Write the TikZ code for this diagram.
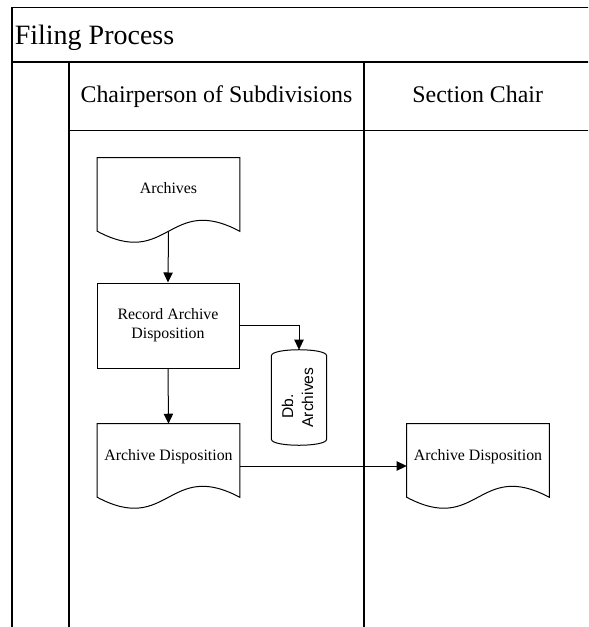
\documentclass[tikz,border=0pt]{standalone}
\usepackage{fontspec}
\setmainfont{Liberation Serif}
\setsansfont{Liberation Sans}
\usetikzlibrary{arrows.meta,calc}

\begin{document}
\begin{tikzpicture}[x=0.75pt,y=-0.75pt,
		frame/.style={line width=1pt},
		flow/.style={-{Triangle[length=7.5pt,width=7pt]},line width=0.75pt},
		nodefont/.style={font=\fontsize{11.9}{14.5}\selectfont},
		procbox/.style={draw,line width=0.75pt,nodefont,minimum width=106.5pt,minimum height=63.75pt,align=center,inner sep=2pt},
		docbox/.style={nodefont,minimum width=106.5pt,minimum height=63pt,inner sep=0pt,text height=8pt,text depth=17pt,
			append after command={\pgfextra{\draw[line width=0.75pt] (\tikzlastnode.north west) -- (\tikzlastnode.north east) -- ($(\tikzlastnode.south east)+(0,-11)$) .. controls ($(\tikzlastnode.south)+(0,-49)$) and ($(\tikzlastnode.south)+(0,27)$) .. ($(\tikzlastnode.south west)+(0,-11)$) -- cycle;}}},
		dbase/.style={minimum width=41pt,minimum height=71.25pt,inner sep=0pt,font=\sffamily\fontsize{11.7}{15}\selectfont,
			append after command={\pgfextra{\draw[line width=0.75pt] ($(\tikzlastnode.north west)+(0,6)$) .. controls ($(\tikzlastnode.north west)+(0,-2)$) and ($(\tikzlastnode.north east)+(0,-2)$) .. ($(\tikzlastnode.north east)+(0,6)$) -- ($(\tikzlastnode.south east)+(0,-6)$) .. controls ($(\tikzlastnode.south east)+(0,2)$) and ($(\tikzlastnode.south west)+(0,2)$) .. ($(\tikzlastnode.south west)+(0,-6)$) -- cycle;}}}
	]
	\useasboundingbox (0,0) rectangle (588,627);
	\clip (0,0) rectangle (588,627);

	\draw[frame] (12,7.5) rectangle (591,640);
	\draw[frame] (12,62) -- (591,62);
	\draw[frame] (69,62) -- (69,640);
	\draw[frame] (69,130.5) -- (591,130.5);
	\draw[frame] (364,62) -- (364,640);

	\node[anchor=base west,inner sep=0pt,font=\fontsize{21}{25}\selectfont] (title) at (14.5,44.5) {Filing Process};
	\node[anchor=base,inner sep=0pt,font=\fontsize{17.9}{22}\selectfont] (chair) at (216.5,102.5) {Chairperson of Subdivisions};
	\node[anchor=base,inner sep=0pt,font=\fontsize{17.9}{22}\selectfont] (section) at (477.7,102.5) {Section Chair};

	\node[docbox] (arch) at (168.5,200) {Archives};
	\node[procbox] (rec) at (168,325.5) {Record Archive\\Disposition};
	\node[dbase] (db) at (299,397.5) {\rotatebox{90}{\begin{tabular}{@{}c@{}}Db.\kern13pt\\Archives\end{tabular}}};
	\node[docbox] (disp) at (168.5,466) {Archive Disposition};
	\node[docbox] (sdisp) at (478,466) {Archive Disposition};

	\draw[flow] (arch.south) ++(0,-11) -- (rec.north);
	\draw[flow] (rec.east) -| (db.north);
	\draw[flow] (rec.south) -- (disp.north);
	\draw[flow] (disp.east) -- (sdisp.west);
\end{tikzpicture}
\end{document}
